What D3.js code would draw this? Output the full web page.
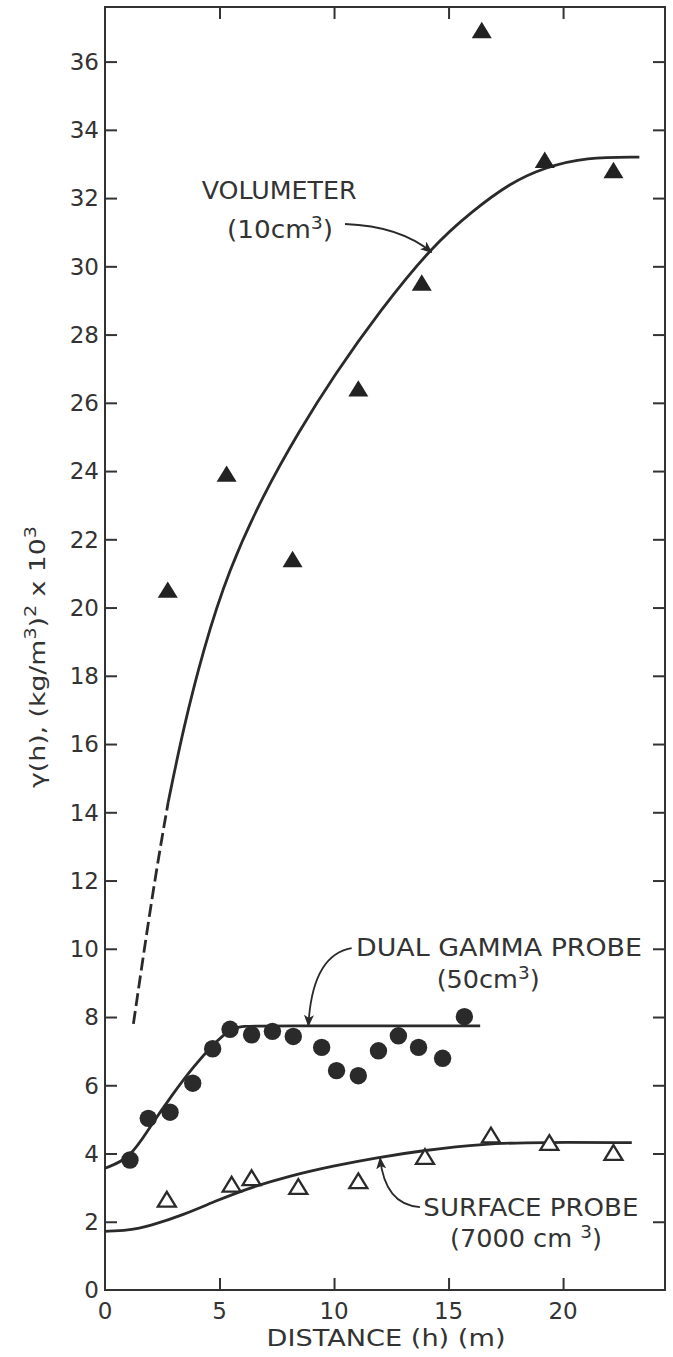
<!DOCTYPE html>
<html>
<head>
<meta charset="utf-8">
<script src="https://cdn.jsdelivr.net/npm/d3@7"></script>
<style>
  body { margin: 0; background: #fff; }
  svg { display: block; }
  .lbl { font-family: 'DejaVu Sans', sans-serif; fill: #333; }
</style>
</head>
<body>
<div id="chart"></div>
<script>
// ---- data ----
const xTicks = [0, 5, 10, 15, 20];
const yTicks = [0, 2, 4, 6, 8, 10, 12, 14, 16, 18, 20, 22, 24, 26, 28, 30, 32, 34, 36];

// volumeter (10 cm3), filled triangles
const volX = [2.74, 5.31, 8.19, 11.06, 13.83, 16.45, 19.2, 22.2];
const volY = [20.5, 23.9, 21.4, 26.4, 29.5, 36.9, 33.1, 32.8];
// fitted curve, solid part and dashed extrapolation
const volFitX = [2.76, 3.4, 4.3, 5.4, 6.9, 8.5, 10.0, 12.0, 14.3, 16.0, 17.7, 19.2, 21.0, 23.33];
const volFitY = [14.3, 16.4, 18.8, 21.1, 23.3, 25.2, 26.8, 28.7, 30.6, 31.6, 32.45, 32.9, 33.2, 33.2];
const volDashX = [1.24, 2.11, 2.76];
const volDashY = [7.8, 11.8, 14.3];

// dual gamma probe (50 cm3), filled circles
const gamX = [1.09, 1.89, 2.84, 3.83, 4.70, 5.46, 6.40, 7.31, 8.22, 9.46, 10.11, 11.06, 11.94, 12.81, 13.69, 14.74, 15.69];
const gamY = [3.81, 5.03, 5.21, 6.06, 7.07, 7.64, 7.48, 7.58, 7.43, 7.11, 6.43, 6.28, 7.01, 7.45, 7.11, 6.79, 8.01];
const gamFitX = [0, 1.09, 1.97, 2.91, 3.86, 4.73, 5.46, 6.04, 7.0, 16.38];
const gamFitY = [3.57, 3.85, 4.79, 5.7, 6.55, 7.2, 7.65, 7.74, 7.74, 7.74];

// surface probe (7000 cm3), open triangles
const surX = [2.7, 5.53, 6.40, 8.44, 11.06, 13.97, 16.85, 19.4, 22.2];
const surY = [2.64, 3.08, 3.27, 3.01, 3.18, 3.89, 4.52, 4.30, 4.01];
const surFitX = [0, 1, 1.97, 3.42, 4.87, 6.33, 8.08, 9.97, 11.86, 13.9, 16.5, 19, 23.0];
const surFitY = [1.72, 1.74, 1.88, 2.2, 2.62, 3.0, 3.35, 3.64, 3.88, 4.09, 4.29, 4.33, 4.32];

const width = 673, height = 1357;
const margin = { top: 7, right: 8, bottom: 67, left: 105 };
const ink = '#333';

const svg = d3.select('#chart')
  .append('svg')
  .attr('width', width)
  .attr('height', height);

const x = d3.scaleLinear().domain([0, 24.45]).range([margin.left, width - margin.right]);
const y = d3.scaleLinear().domain([0, 37.6]).range([height - margin.bottom, margin.top]);

// ---- frame + inward ticks ----
const frame = svg.append('g');
frame.append('rect')
  .attr('x', x(0)).attr('y', y(37.6))
  .attr('width', x(24.45) - x(0)).attr('height', y(0) - y(37.6))
  .attr('fill', 'none').attr('stroke', ink).attr('stroke-width', 2);

const tickLen = 12;
const noLabel = () => '';
function styleAxis(g) {
  g.select('.domain').remove();
  g.selectAll('.tick line').attr('stroke', ink).attr('stroke-width', 2);
}
svg.append('g').attr('transform', `translate(0,${y(0)})`)
  .call(d3.axisTop(x).tickValues(xTicks.slice(1)).tickSize(tickLen).tickFormat(noLabel))
  .call(styleAxis);
svg.append('g').attr('transform', `translate(0,${y(37.6)})`)
  .call(d3.axisBottom(x).tickValues(xTicks.slice(1)).tickSize(tickLen).tickFormat(noLabel))
  .call(styleAxis);
svg.append('g').attr('transform', `translate(${x(0)},0)`)
  .call(d3.axisRight(y).tickValues(yTicks.slice(1)).tickSize(tickLen).tickFormat(noLabel))
  .call(styleAxis);
svg.append('g').attr('transform', `translate(${x(24.45)},0)`)
  .call(d3.axisLeft(y).tickValues(yTicks.slice(1)).tickSize(tickLen).tickFormat(noLabel))
  .call(styleAxis);

// tick labels
svg.append('g').selectAll('text')
  .data(xTicks).enter().append('text')
  .attr('class', 'lbl')
  .attr('x', d => x(d))
  .attr('y', y(0) + 29)
  .attr('text-anchor', 'middle')
  .style('font-size', '23px')
  .text(d => d);

svg.append('g').selectAll('text')
  .data(yTicks).enter().append('text')
  .attr('class', 'lbl')
  .attr('x', x(0) - 6)
  .attr('y', d => y(d))
  .attr('dy', '0.36em')
  .attr('text-anchor', 'end')
  .style('font-size', '23px')
  .text(d => d);

// axis titles
svg.append('text')
  .attr('class', 'lbl')
  .attr('x', 386).attr('y', 1346)
  .attr('text-anchor', 'middle')
  .attr('textLength', 239).attr('lengthAdjust', 'spacingAndGlyphs')
  .style('font-size', '23px')
  .text('DISTANCE (h) (m)');

const yTitle = svg.append('text')
  .attr('class', 'lbl')
  .attr('transform', 'translate(45,657) rotate(-90)')
  .attr('text-anchor', 'middle')
  .attr('textLength', 262).attr('lengthAdjust', 'spacingAndGlyphs')
  .style('font-size', '21px');
yTitle.append('tspan').text('γ(h), (kg/m');
yTitle.append('tspan').attr('dy', -9).style('font-size', '15px').text('3');
yTitle.append('tspan').attr('dy', 9).text(')');
yTitle.append('tspan').attr('dy', -9).style('font-size', '15px').text('2');
yTitle.append('tspan').attr('dy', 9).text(' x 10');
yTitle.append('tspan').attr('dy', -9).style('font-size', '15px').text('3');

// ---- fitted curves ----
const line = d3.line().x(d => x(d[0])).y(d => y(d[1])).curve(d3.curveBasis);
const curves = svg.append('g').attr('fill', 'none').attr('stroke', '#2a2a2a').attr('stroke-width', 2.8);

curves.append('path').attr('d', line(d3.zip(volFitX, volFitY)));
curves.append('path').attr('d', line(d3.zip(volDashX, volDashY)))
  .attr('stroke-dasharray', '13,5');
curves.append('path').attr('d', line(d3.zip(gamFitX, gamFitY)));
curves.append('path').attr('d', line(d3.zip(surFitX, surFitY)));

// ---- point markers ----
const tri = {
  draw(ctx, size) {
    const w = Math.sqrt(size), h = w * 0.82;
    ctx.moveTo(0, -h * 0.55);
    ctx.lineTo(w / 2, h * 0.45);
    ctx.lineTo(-w / 2, h * 0.45);
    ctx.closePath();
  }
};

svg.append('g').selectAll('path')
  .data(d3.zip(volX, volY)).enter().append('path')
  .attr('transform', d => `translate(${x(d[0])},${y(d[1])})`)
  .attr('d', d3.symbol(tri, 20 * 20))
  .attr('fill', '#222');

svg.append('g').selectAll('circle')
  .data(d3.zip(gamX, gamY)).enter().append('circle')
  .attr('cx', d => x(d[0]))
  .attr('cy', d => y(d[1]))
  .attr('r', 8.7)
  .attr('fill', '#2a2a2a');

svg.append('g').selectAll('path')
  .data(d3.zip(surX, surY)).enter().append('path')
  .attr('transform', d => `translate(${x(d[0])},${y(d[1])})`)
  .attr('d', d3.symbol(tri, 18 * 18))
  .attr('fill', '#fff')
  .attr('stroke', '#2a2a2a')
  .attr('stroke-width', 2.3);

// ---- annotations ----
svg.append('defs').append('marker')
  .attr('id', 'head')
  .attr('viewBox', '0 -5 12 10')
  .attr('refX', 11).attr('refY', 0)
  .attr('markerWidth', 12).attr('markerHeight', 10)
  .attr('markerUnits', 'userSpaceOnUse')
  .attr('orient', 'auto')
  .append('path').attr('d', 'M0,-5L12,0L0,5L3,0Z').attr('fill', '#2a2a2a');

function arrow(p0, c, p1) {
  const p = d3.path();
  p.moveTo(x(p0[0]), y(p0[1]));
  p.quadraticCurveTo(x(c[0]), y(c[1]), x(p1[0]), y(p1[1]));
  svg.append('path').attr('d', p.toString())
    .attr('fill', 'none').attr('stroke', '#2a2a2a').attr('stroke-width', 1.8)
    .attr('marker-end', 'url(#head)');
}

function label(xv, yv, parts, len, size) {
  const t = svg.append('text').attr('class', 'lbl')
    .attr('x', x(xv)).attr('y', y(yv))
    .attr('textLength', len).attr('lengthAdjust', 'spacingAndGlyphs')
    .style('font-size', size + 'px');
  parts.forEach(p => {
    if (p.sup) t.append('tspan').attr('dy', -9).style('font-size', (size * 0.72) + 'px').text(p.sup);
    else t.append('tspan').attr('dy', p.after ? 9 : 0).text(p.t);
  });
}

label(4.22, 31.97, [{ t: 'VOLUMETER' }], 155, 24);
label(5.33, 30.83, [{ t: '(10cm' }, { sup: '3' }, { t: ')', after: true }], 106, 24);
arrow([10.48, 31.24], [12.88, 31.18], [14.26, 30.41]);

label(10.96, 9.80, [{ t: 'DUAL  GAMMA  PROBE' }], 286, 24);
label(14.48, 8.85, [{ t: '(50cm' }, { sup: '3' }, { t: ')', after: true }], 103, 24);
arrow([10.77, 10.02], [9.04, 9.82], [8.88, 7.74]);

label(13.9, 2.17, [{ t: 'SURFACE PROBE' }], 215, 24);
label(15.06, 1.27, [{ t: '(7000 cm ' }, { sup: '3' }, { t: ')', after: true }], 152, 24);
arrow([13.75, 2.43], [12.22, 2.49], [12.01, 3.87]);
</script>
</body>
</html>
